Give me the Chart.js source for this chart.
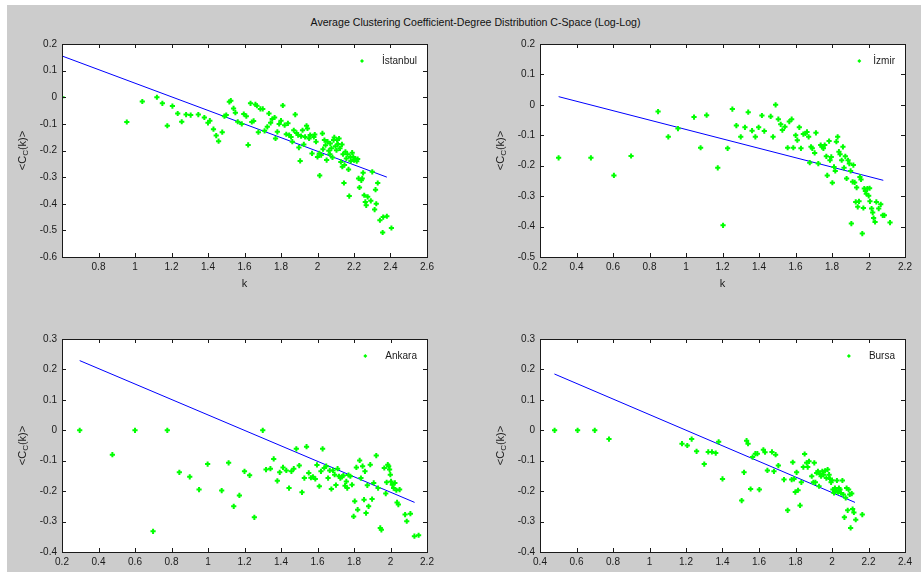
<!DOCTYPE html>
<html lang="en">
<head>
<meta charset="utf-8">
<title>Average Clustering Coefficient-Degree Distribution C-Space (Log-Log)</title>
<script src="https://cdn.jsdelivr.net/npm/chart.js@4.4.1/dist/chart.umd.min.js"></script>
<style>
  html, body { margin: 0; padding: 0; background: #ffffff; overflow: hidden; }
  #fig {
    position: absolute; left: 7px; top: 5px; width: 914px; height: 567px;
    background: #cccccc;
  }
  #title {
    position: absolute; left: 0; top: 16px; width: 951px; text-align: center;
    font: 10.6px "Liberation Sans", Arial, sans-serif; color: #111111;
  }
  canvas { position: absolute; }
</style>
</head>
<body>
<div id="fig"></div>
<div id="title">Average Clustering Coefficient-Degree Distribution C-Space (Log-Log)</div>
<canvas id="c1"></canvas>
<canvas id="c2"></canvas>
<canvas id="c3"></canvas>
<canvas id="c4"></canvas>

<script>
// log10(k) vs log10(<C_C(k)>) for each city, plus the fitted line ends

const istanbulK = [0.60, 0.955, 1.04, 1.12, 1.15, 1.177, 1.205, 1.234, 1.256, 1.28, 1.305, 1.347, 1.38, 1.40, 1.41,
  1.43, 1.445, 1.458, 1.478, 1.49, 1.50, 1.517, 1.525, 1.54, 1.55, 1.563, 1.585, 1.596, 1.61, 1.62,
  1.633, 1.64, 1.65, 1.66, 1.668, 1.676, 1.687, 1.70, 1.71, 1.725, 1.734, 1.743, 1.752, 1.765, 1.77,
  1.78, 1.79, 1.80, 1.81, 1.82, 1.829, 1.838, 1.845, 1.855, 1.862, 1.87, 1.878, 1.885, 1.894, 1.898,
  1.905, 1.91, 1.918, 1.925, 1.932, 1.94, 1.945, 1.954, 1.96, 1.97, 1.98, 1.985, 1.992, 2.0, 2.01,
  2.012, 2.02, 2.027, 2.03, 2.038, 2.044, 2.05, 2.055, 2.062, 2.068, 2.07, 2.076, 2.082, 2.088, 2.092,
  2.098, 2.104, 2.107, 2.112, 2.118, 2.123, 2.128, 2.134, 2.136, 2.14, 2.145, 2.148, 2.153, 2.158, 2.164,
  2.17, 2.174, 2.18, 2.183, 2.19, 2.196, 2.20, 2.207, 2.215, 2.22, 2.225, 2.23, 2.24, 2.245, 2.25,
  2.256, 2.262, 2.267, 2.275, 2.292, 2.30, 2.313, 2.318, 2.322, 2.33, 2.342, 2.357, 2.36, 2.38, 2.405];
const istanbulC = [0.0, -0.093, -0.016, 0.0, -0.023, -0.107, -0.033, -0.061, -0.092, -0.065, -0.067, -0.065, -0.076, -0.096, -0.088,
  -0.12, -0.144, -0.165, -0.131, -0.071, -0.067, -0.017, -0.013, -0.042, -0.058, -0.092, -0.10, -0.063, -0.071, -0.179,
  -0.023, -0.093, -0.089, -0.027, -0.032, -0.131, -0.044, -0.044, -0.126, -0.111, -0.061, -0.096, -0.082, -0.076, -0.155,
  -0.13, -0.10, -0.088, -0.031, -0.105, -0.139, -0.098, -0.142, -0.149, -0.167, -0.124, -0.065, -0.134, -0.142, -0.189,
  -0.239, -0.146, -0.124, -0.177, -0.149, -0.107, -0.117, -0.155, -0.142, -0.211, -0.149, -0.14, -0.167, -0.224, -0.211,
  -0.294, -0.217, -0.136, -0.195, -0.161, -0.18, -0.236, -0.167, -0.201, -0.214, -0.174, -0.192, -0.226, -0.161, -0.151,
  -0.184, -0.199, -0.161, -0.176, -0.155, -0.192, -0.243, -0.177, -0.261, -0.214, -0.322, -0.254, -0.205, -0.23, -0.214,
  -0.271, -0.371, -0.224, -0.239, -0.208, -0.224, -0.236, -0.23, -0.24, -0.232, -0.305, -0.339, -0.312, -0.305, -0.284,
  -0.368, -0.393, -0.406, -0.374, -0.389, -0.28, -0.422, -0.347, -0.40, -0.322, -0.462, -0.508, -0.45, -0.447, -0.491];
const istanbulFitK = [0.60, 2.38];
const istanbulFitC = [0.155, -0.30];

const izmirK = [0.302, 0.479, 0.605, 0.699, 0.847, 0.903, 0.956, 1.044, 1.08, 1.113, 1.174, 1.203, 1.228, 1.254, 1.276,
  1.30, 1.323, 1.341, 1.362, 1.38, 1.398, 1.416, 1.429, 1.464, 1.477, 1.491, 1.506, 1.519, 1.528, 1.542,
  1.557, 1.566, 1.579, 1.588, 1.601, 1.61, 1.621, 1.63, 1.643, 1.654, 1.663, 1.672, 1.678, 1.685, 1.692,
  1.705, 1.712, 1.725, 1.738, 1.745, 1.753, 1.76, 1.769, 1.774, 1.784, 1.789, 1.796, 1.802, 1.811, 1.818,
  1.824, 1.831, 1.838, 1.844, 1.853, 1.86, 1.866, 1.873, 1.88, 1.888, 1.895, 1.902, 1.906, 1.913, 1.917,
  1.924, 1.93, 1.935, 1.941, 1.948, 1.953, 1.959, 1.966, 1.972, 1.977, 1.983, 1.988, 1.994, 2.001, 2.006,
  2.008, 2.017, 2.023, 2.028, 2.036, 2.043, 2.056, 2.067, 2.078, 2.087, 2.118];
const izmirC = [-0.174, -0.174, -0.232, -0.168, -0.022, -0.105, -0.078, -0.040, -0.141, -0.034, -0.207, -0.396, -0.143, -0.014, -0.068,
  -0.105, -0.074, -0.024, -0.085, -0.105, -0.074, -0.035, -0.086, -0.038, -0.105, 0.0, -0.047, -0.064, -0.083, -0.072,
  -0.141, -0.055, -0.047, -0.141, -0.10, -0.116, -0.074, -0.143, -0.096, -0.094, -0.089, -0.105, -0.19, -0.138, -0.143,
  -0.158, -0.092, -0.193, -0.132, -0.138, -0.143, -0.132, -0.169, -0.232, -0.119, -0.182, -0.171, -0.256, -0.204, -0.217,
  -0.121, -0.105, -0.154, -0.162, -0.182, -0.138, -0.207, -0.169, -0.242, -0.182, -0.193, -0.217, -0.39, -0.253, -0.198,
  -0.255, -0.319, -0.272, -0.335, -0.317, -0.237, -0.245, -0.423, -0.339, -0.275, -0.283, -0.292, -0.275, -0.299, -0.274,
  -0.317, -0.341, -0.354, -0.372, -0.385, -0.319, -0.341, -0.327, -0.363, -0.363, -0.387];
const izmirFitK = [0.302, 2.081];
const izmirFitC = [0.027, -0.248];

const ankaraK = [0.297, 0.476, 0.60, 0.699, 0.777, 0.843, 0.90, 0.951, 0.998, 1.075, 1.113, 1.141, 1.172, 1.20, 1.228,
  1.254, 1.30, 1.318, 1.342, 1.36, 1.38, 1.393, 1.411, 1.429, 1.444, 1.457, 1.47, 1.484, 1.50, 1.515,
  1.528, 1.54, 1.552, 1.564, 1.575, 1.588, 1.597, 1.61, 1.619, 1.628, 1.637, 1.648, 1.658, 1.667, 1.676,
  1.685, 1.694, 1.701, 1.71, 1.718, 1.725, 1.734, 1.742, 1.751, 1.758, 1.763, 1.77, 1.78, 1.789, 1.798,
  1.804, 1.813, 1.82, 1.831, 1.838, 1.847, 1.855, 1.86, 1.866, 1.873, 1.88, 1.889, 1.899, 1.908, 1.922,
  1.932, 1.944, 1.95, 1.966, 1.974, 1.979, 1.985, 1.99, 1.995, 1.999, 2.003, 2.01, 2.017, 2.024, 2.032,
  2.036, 2.043, 2.05, 2.08, 2.089, 2.109, 2.131, 2.154];
const ankaraC = [0.0, -0.080, 0.0, -0.332, 0.0, -0.138, -0.153, -0.195, -0.111, -0.198, -0.107, -0.25, -0.214, -0.135, -0.148,
  -0.286, 0.0, -0.129, -0.126, -0.094, -0.166, -0.138, -0.122, -0.132, -0.19, -0.135, -0.126, -0.061, -0.116, -0.204,
  -0.157, -0.054, -0.14, -0.156, -0.153, -0.16, -0.114, -0.184, -0.135, -0.061, -0.124, -0.118, -0.157, -0.132, -0.193,
  -0.132, -0.146, -0.18, -0.126, -0.151, -0.157, -0.153, -0.149, -0.182, -0.168, -0.19, -0.147, -0.151, -0.179, -0.283,
  -0.233, -0.122, -0.261, -0.099, -0.157, -0.118, -0.228, -0.135, -0.272, -0.181, -0.25, -0.113, -0.226, -0.173, -0.083,
  -0.19, -0.321, -0.327, -0.124, -0.208, -0.171, -0.113, -0.118, -0.129, -0.146, -0.168, -0.179, -0.19, -0.173, -0.197,
  -0.237, -0.244, -0.195, -0.277, -0.299, -0.274, -0.348, -0.345];
const ankaraFitK = [0.297, 2.132];
const ankaraFitC = [0.229, -0.237];

const bursaK = [0.48, 0.606, 0.70, 0.778, 1.178, 1.207, 1.231, 1.258, 1.30, 1.322, 1.342, 1.363, 1.379, 1.40, 1.505,
  1.518, 1.532, 1.54, 1.554, 1.565, 1.58, 1.591, 1.602, 1.624, 1.633, 1.646, 1.671, 1.682, 1.691, 1.706,
  1.737, 1.757, 1.779, 1.785, 1.792, 1.799, 1.806, 1.814, 1.825, 1.832, 1.843, 1.85, 1.861, 1.867, 1.874,
  1.889, 1.898, 1.903, 1.909, 1.916, 1.923, 1.929, 1.934, 1.94, 1.947, 1.954, 1.962, 1.969, 1.976, 1.984,
  1.989, 1.995, 2.0, 2.005, 2.011, 2.016, 2.022, 2.027, 2.033, 2.038, 2.044, 2.049, 2.057, 2.062, 2.068,
  2.075, 2.08, 2.086, 2.091, 2.097, 2.102, 2.108, 2.113, 2.12, 2.13, 2.166];
const bursaC = [0.0, 0.0, 0.0, -0.029, -0.044, -0.05, -0.029, -0.069, -0.111, -0.071, -0.071, -0.075, -0.038, -0.16, -0.231,
  -0.138, -0.034, -0.044, -0.193, -0.088, -0.077, -0.077, -0.195, -0.064, -0.072, -0.132, -0.071, -0.135, -0.080, -0.116,
  -0.162, -0.263, -0.162, -0.105, -0.16, -0.203, -0.138, -0.197, -0.247, -0.171, -0.121, -0.078, -0.107, -0.121, -0.102,
  -0.151, -0.171, -0.107, -0.171, -0.14, -0.135, -0.184, -0.144, -0.151, -0.135, -0.146, -0.133, -0.157, -0.129, -0.146,
  -0.16, -0.171, -0.164, -0.195, -0.206, -0.19, -0.197, -0.165, -0.203, -0.19, -0.195, -0.206, -0.165, -0.211, -0.286,
  -0.222, -0.19, -0.263, -0.195, -0.211, -0.321, -0.208, -0.259, -0.27, -0.294, -0.277];
const bursaFitK = [0.479, 2.126];
const bursaFitC = [0.185, -0.237];

// axis limits and tick labels
const istanbulXTicks = [0.8, 1, 1.2, 1.4, 1.6, 1.8, 2, 2.2, 2.4, 2.6];
const istanbulYTicks = [-0.6, -0.5, -0.4, -0.3, -0.2, -0.1, 0, 0.1, 0.2];
const izmirXTicks = [0.2, 0.4, 0.6, 0.8, 1, 1.2, 1.4, 1.6, 1.8, 2, 2.2];
const izmirYTicks = [-0.5, -0.4, -0.3, -0.2, -0.1, 0, 0.1, 0.2];
const ankaraXTicks = [0.2, 0.4, 0.6, 0.8, 1, 1.2, 1.4, 1.6, 1.8, 2, 2.2];
const ankaraYTicks = [-0.4, -0.3, -0.2, -0.1, 0, 0.1, 0.2, 0.3];
const bursaXTicks = [0.4, 0.6, 0.8, 1, 1.2, 1.4, 1.6, 1.8, 2, 2.2, 2.4];
const bursaYTicks = [-0.4, -0.3, -0.2, -0.1, 0, 0.1, 0.2, 0.3];

const FONT = '"Liberation Sans", Arial, sans-serif';
const INK = '#1a1a1a';
const BOX_W = 365, BOX_H = 213;     // axes box in px
const PAD_L = 62, PAD_T = 14, PAD_R = 25, PAD_B = 45;

// axes box placement on the figure and legend spacing
const panels = [
  { id: 'c1', left: 62, top: 44, name: 'İstanbul', k: istanbulK, c: istanbulC, fk: istanbulFitK, fc: istanbulFitC,
    xMin: 0.6, xMax: 2.6, xTicks: istanbulXTicks, yTicks: istanbulYTicks, gap: 20 },
  { id: 'c2', left: 540, top: 44, name: 'İzmir', k: izmirK, c: izmirC, fk: izmirFitK, fc: izmirFitC,
    xMin: 0.2, xMax: 2.2, xTicks: izmirXTicks, yTicks: izmirYTicks, gap: 14 },
  { id: 'c3', left: 62, top: 339, name: 'Ankara', k: ankaraK, c: ankaraC, fk: ankaraFitK, fc: ankaraFitC,
    xMin: 0.2, xMax: 2.2, xTicks: ankaraXTicks, yTicks: ankaraYTicks, gap: 20 },
  { id: 'c4', left: 540, top: 339, name: 'Bursa', k: bursaK, c: bursaC, fk: bursaFitK, fc: bursaFitC,
    xMin: 0.4, xMax: 2.4, xTicks: bursaXTicks, yTicks: bursaYTicks, gap: 20 }
];

function fmt(v) {
  return String(Number(v.toFixed(1)));
}

// white axes, inward tick marks on all sides, axis titles and legend
const matlabAxes = {
  id: 'matlabAxes',
  beforeDatasetsDraw(chart) {
    const a = chart.chartArea, ctx = chart.ctx;
    ctx.save();
    ctx.fillStyle = '#ffffff';
    ctx.fillRect(a.left, a.top, a.right - a.left, a.bottom - a.top);
    ctx.restore();
  },
  afterDraw(chart, args, opts) {
    const a = chart.chartArea, ctx = chart.ctx;
    const xs = chart.scales.x, ys = chart.scales.y;
    const tl = 4;
    ctx.save();
    ctx.strokeStyle = INK;
    ctx.lineWidth = 1;
    ctx.beginPath();
    xs.ticks.forEach(t => {
      const px = Math.round(xs.getPixelForValue(t.value)) + 0.5;
      ctx.moveTo(px, a.bottom); ctx.lineTo(px, a.bottom - tl);
      ctx.moveTo(px, a.top); ctx.lineTo(px, a.top + tl);
    });
    ys.ticks.forEach(t => {
      const py = Math.round(ys.getPixelForValue(t.value)) + 0.5;
      ctx.moveTo(a.left, py); ctx.lineTo(a.left + tl, py);
      ctx.moveTo(a.right, py); ctx.lineTo(a.right - tl, py);
    });
    ctx.stroke();
    ctx.strokeRect(Math.round(a.left) + 0.5, Math.round(a.top) + 0.5,
      Math.round(a.right - a.left), Math.round(a.bottom - a.top));

    // x title
    ctx.fillStyle = INK;
    ctx.font = '11px ' + FONT;
    ctx.textAlign = 'center';
    ctx.textBaseline = 'middle';
    ctx.fillText('k', (a.left + a.right) / 2, a.bottom + 27);

    // y title: <C_C(k)> rotated, with subscript
    ctx.save();
    ctx.translate(a.left - 39, (a.top + a.bottom) / 2);
    ctx.rotate(-Math.PI / 2);
    const p1 = '<C', p3 = '(k)>';
    ctx.font = '11px ' + FONT;
    const w1 = ctx.measureText(p1).width, w3 = ctx.measureText(p3).width;
    ctx.font = '8px ' + FONT;
    const w2 = ctx.measureText('C').width;
    const x0 = -(w1 + w2 + w3) / 2;
    ctx.textAlign = 'left';
    ctx.font = '11px ' + FONT;
    ctx.fillText(p1, x0, 0);
    ctx.font = '8px ' + FONT;
    ctx.fillText('C', x0 + w1, 3);
    ctx.font = '11px ' + FONT;
    ctx.fillText(p3, x0 + w1 + w2, 0);
    ctx.restore();

    // legend
    ctx.font = '10px ' + FONT;
    ctx.textAlign = 'right';
    ctx.fillStyle = INK;
    const ly = a.top + 17;
    const tx = a.right - 10;
    ctx.fillText(opts.name, tx, ly);
    const mx = tx - ctx.measureText(opts.name).width - opts.gap;
    ctx.fillStyle = '#00ff00';
    ctx.beginPath();
    ctx.moveTo(mx, ly - 2); ctx.lineTo(mx + 2, ly); ctx.lineTo(mx, ly + 2); ctx.lineTo(mx - 2, ly);
    ctx.closePath();
    ctx.fill();
    ctx.restore();
  }
};

panels.forEach(p => {
  const cv = document.getElementById(p.id);
  cv.width = PAD_L + BOX_W + PAD_R;
  cv.height = PAD_T + BOX_H + PAD_B;
  cv.style.left = (p.left - PAD_L) + 'px';
  cv.style.top = (p.top - PAD_T) + 'px';

  const pts = p.k.map((v, i) => ({ x: v, y: p.c[i] }));
  const fit = p.fk.map((v, i) => ({ x: v, y: p.fc[i] }));

  new Chart(cv.getContext('2d'), {
    type: 'scatter',
    data: {
      datasets: [{
        label: p.name,
        data: pts,
        pointStyle: 'cross',
        pointRadius: 2.6,
        pointBorderWidth: 2,
        pointBorderColor: '#00ff00',
        pointBackgroundColor: '#00ff00',
        showLine: false
      }, {
        label: 'fit',
        type: 'line',
        data: fit,
        borderColor: '#0000ff',
        borderWidth: 1,
        pointRadius: 0,
        fill: false,
        tension: 0
      }]
    },
    options: {
      responsive: false,
      animation: false,
      devicePixelRatio: 1,
      layout: { padding: { left: 0, top: PAD_T, right: PAD_R, bottom: 0 } },
      plugins: {
        legend: { display: false },
        tooltip: { enabled: false },
        matlabAxes: { name: p.name, gap: p.gap }
      },
      scales: {
        x: {
          type: 'linear',
          min: p.xMin,
          max: p.xMax,
          grid: { display: false, drawTicks: false },
          border: { display: false },
          afterBuildTicks: s => { s.ticks = p.xTicks.map(v => ({ value: v })); },
          afterFit: s => { s.height = PAD_B; },
          ticks: {
            autoSkip: false, maxRotation: 0, padding: 4,
            color: INK, font: { family: FONT, size: 10 },
            callback: v => fmt(v)
          }
        },
        y: {
          type: 'linear',
          min: p.yTicks[0],
          max: p.yTicks[p.yTicks.length - 1],
          grid: { display: false, drawTicks: false },
          border: { display: false },
          afterBuildTicks: s => { s.ticks = p.yTicks.map(v => ({ value: v })); },
          afterFit: s => { s.width = PAD_L; },
          ticks: {
            autoSkip: false, padding: 5,
            color: INK, font: { family: FONT, size: 10 },
            callback: v => fmt(v)
          }
        }
      }
    },
    plugins: [matlabAxes]
  });
});
</script>
</body>
</html>
